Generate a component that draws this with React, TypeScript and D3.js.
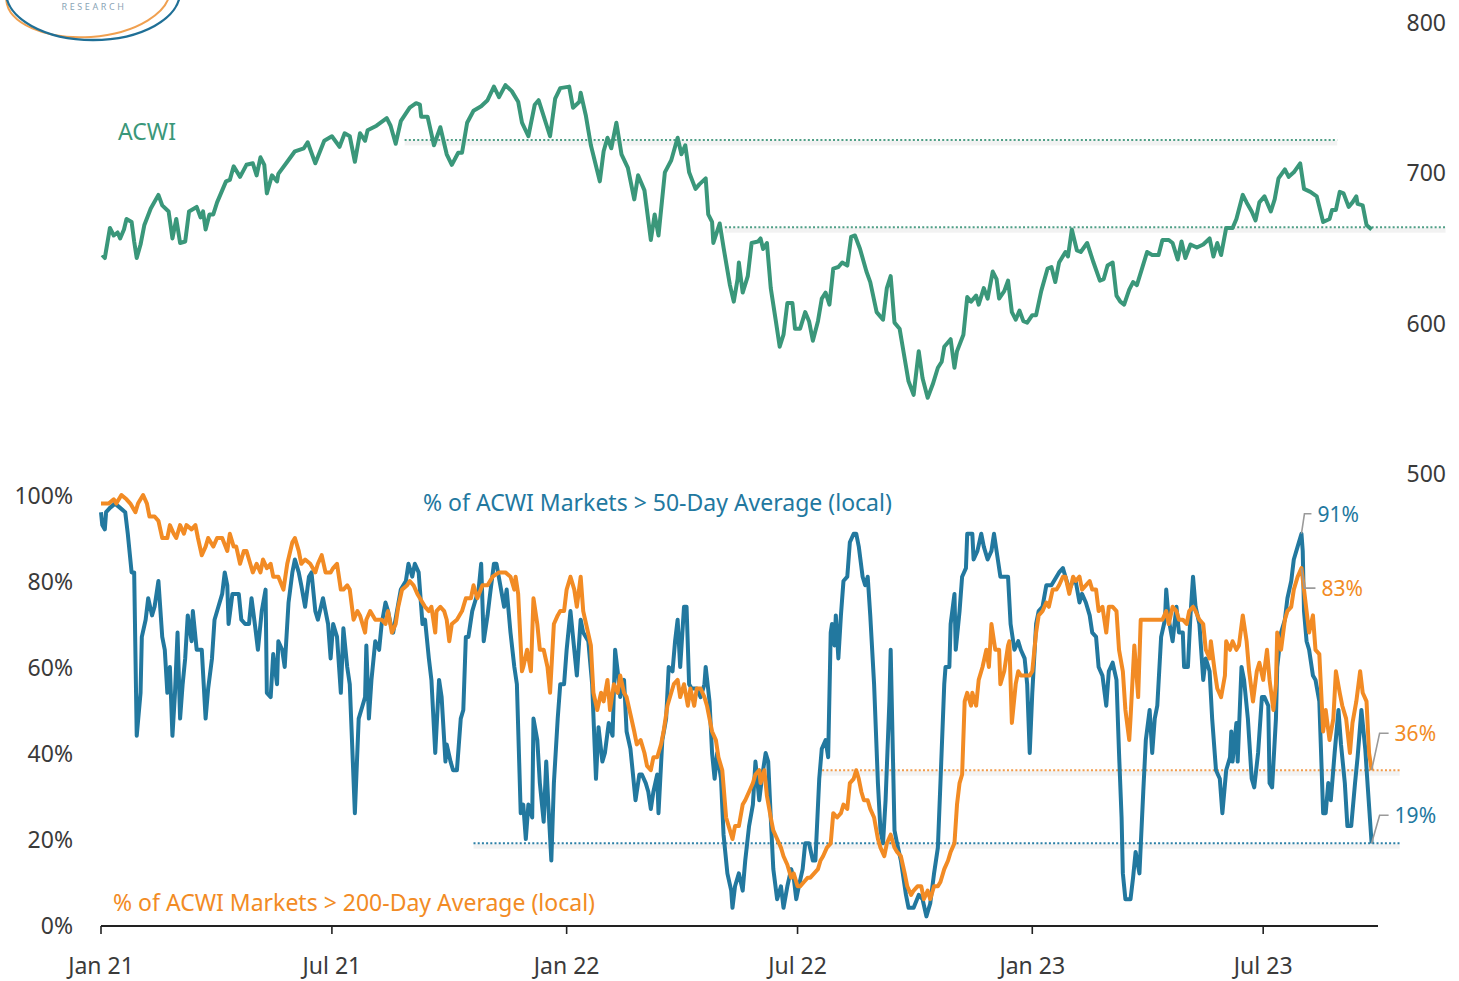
import { useEffect } from 'react'
import * as d3 from 'd3'

// all series are [days since 1 Jan 2021, value]
const acwi: [number, number][] = [
  [1, 645], [3, 643], [7, 663], [10, 658], [13, 660], [15, 656], [18, 662], [20, 669], [24, 667], [26, 654], [28, 643], [31, 652], [34, 665], [39, 676], [45, 685], [48, 678], [53, 674], [56, 656], [59, 669], [62, 653], [66, 654], [69, 674], [75, 677], [78, 670], [80, 674], [82, 662], [85, 672], [88, 672], [91, 680], [98, 694], [101, 695], [104, 704], [109, 697], [114, 705], [119, 706], [122, 698], [125, 710], [128, 705], [130, 686], [134, 698], [138, 694], [139, 699], [146, 707], [152, 714], [159, 716], [162, 720], [168, 706], [175, 721], [181, 724], [187, 717], [191, 726], [195, 724], [199, 707], [203, 726], [207, 721], [209, 728], [216, 731], [224, 736], [227, 731], [231, 719], [235, 734], [242, 743], [247, 746], [250, 745], [251, 737], [256, 737], [261, 718], [266, 730], [271, 712], [275, 705], [280, 713], [283, 713], [287, 733], [292, 741], [298, 744], [303, 748], [308, 757], [312, 750], [317, 758], [322, 754], [327, 747], [330, 733], [335, 724], [340, 745], [343, 748], [346, 740], [352, 724], [356, 749], [360, 756], [367, 757], [370, 743], [375, 747], [376, 753], [380, 738], [384, 718], [391, 694], [394, 714], [397, 723], [400, 716], [404, 733], [408, 712], [413, 703], [418, 682], [421, 698], [426, 688], [431, 655], [434, 672], [437, 658], [442, 700], [447, 708], [452, 723], [455, 712], [458, 718], [461, 700], [466, 689], [469, 692], [474, 696], [476, 672], [479, 667], [480, 653], [485, 666], [488, 650], [493, 625], [496, 614], [499, 629], [500, 640], [503, 620], [507, 631], [510, 653], [515, 654], [517, 656], [519, 649], [522, 653], [525, 623], [529, 601], [532, 584], [535, 592], [538, 613], [542, 613], [544, 596], [548, 596], [552, 607], [555, 601], [558, 588], [562, 601], [565, 616], [568, 620], [571, 612], [574, 636], [578, 637], [581, 640], [585, 638], [588, 657], [591, 658], [595, 649], [600, 634], [603, 627], [608, 607], [613, 602], [616, 623], [619, 631], [622, 600], [626, 596], [629, 581], [633, 561], [637, 552], [641, 581], [644, 563], [648, 550], [652, 559], [656, 570], [659, 574], [661, 584], [666, 589], [669, 570], [671, 581], [676, 592], [679, 617], [682, 614], [686, 618], [688, 612], [692, 623], [695, 616], [699, 634], [702, 629], [704, 616], [708, 621], [711, 628], [714, 607], [717, 602], [720, 608], [723, 601], [726, 600], [730, 605], [733, 605], [737, 621], [742, 636], [745, 637], [748, 627], [751, 640], [756, 647], [758, 644], [761, 662], [765, 648], [768, 647], [773, 653], [778, 640], [783, 628], [786, 629], [789, 638], [793, 640], [796, 618], [799, 614], [802, 612], [806, 622], [809, 627], [812, 625], [816, 636], [820, 647], [824, 645], [829, 645], [832, 655], [837, 655], [840, 653], [844, 642], [847, 654], [850, 643], [854, 652], [859, 650], [864, 652], [869, 656], [872, 644], [875, 653], [878, 645], [882, 663], [887, 663], [890, 669], [895, 685], [898, 680], [902, 674], [905, 668], [908, 680], [912, 684], [917, 674], [920, 682], [923, 696], [928, 702], [931, 697], [935, 700], [940, 706], [943, 689], [948, 687], [953, 684], [958, 667], [963, 669], [965, 675], [968, 675], [971, 687], [974, 686], [978, 677], [981, 680], [984, 684], [985, 679], [989, 678], [992, 665], [996, 662],
]

const above50: [number, number][] = [
  [0, 96], [1, 93], [3, 92], [4, 96], [7, 97], [11, 98], [15, 97], [19, 96], [21, 91], [24, 82], [26, 82], [28, 44], [31, 54], [32, 67], [35, 71], [37, 76], [40, 72], [42, 74], [45, 80], [48, 67], [50, 64], [52, 54], [54, 60], [56, 44], [58, 54], [60, 68], [62, 48], [64, 56], [66, 62], [68, 72], [71, 66], [72, 73], [75, 64], [77, 64], [79, 64], [82, 48], [84, 55], [87, 62], [89, 71], [92, 74], [95, 77], [97, 82], [99, 79], [100, 70], [103, 77], [105, 77], [108, 77], [110, 71], [113, 70], [116, 70], [118, 76], [121, 69], [123, 64], [126, 73], [129, 78], [130, 54], [133, 53], [135, 63], [138, 56], [139, 66], [142, 64], [144, 60], [147, 75], [150, 82], [152, 85], [155, 82], [157, 79], [160, 74], [163, 81], [165, 82], [168, 73], [170, 71], [174, 76], [176, 73], [178, 70], [180, 62], [182, 70], [185, 67], [188, 54], [190, 69], [193, 60], [195, 56], [199, 26], [202, 48], [205, 51], [207, 53], [208, 65], [210, 48], [212, 57], [215, 66], [218, 64], [220, 70], [223, 75], [225, 73], [227, 70], [229, 68], [232, 73], [235, 78], [239, 80], [241, 84], [244, 81], [246, 84], [249, 82], [252, 70], [254, 71], [257, 62], [259, 57], [262, 40], [265, 57], [267, 53], [270, 38], [271, 42], [274, 38], [276, 36], [279, 36], [282, 48], [284, 50], [286, 67], [288, 67], [291, 73], [293, 75], [296, 78], [298, 84], [300, 66], [303, 72], [305, 77], [308, 84], [310, 84], [313, 79], [316, 74], [318, 78], [321, 68], [324, 60], [326, 56], [329, 26], [331, 28], [333, 20], [335, 28], [338, 25], [339, 48], [342, 43], [344, 33], [347, 24], [349, 38], [351, 26], [353, 15], [355, 33], [358, 48], [360, 56], [363, 56], [365, 64], [368, 73], [371, 64], [373, 58], [376, 71], [378, 68], [382, 66], [385, 56], [388, 34], [390, 46], [393, 38], [395, 40], [398, 47], [401, 44], [403, 64], [405, 59], [407, 53], [410, 57], [412, 45], [415, 41], [419, 29], [422, 35], [424, 35], [427, 33], [429, 31], [431, 27], [433, 31], [436, 35], [437, 26], [440, 43], [443, 48], [445, 60], [448, 59], [450, 66], [452, 71], [454, 60], [457, 74], [459, 74], [461, 56], [463, 55], [467, 55], [470, 53], [473, 56], [474, 60], [477, 52], [479, 40], [481, 34], [483, 40], [486, 34], [488, 21], [491, 12], [494, 8], [495, 4], [497, 9], [500, 12], [503, 8], [505, 15], [508, 23], [511, 28], [513, 38], [516, 29], [518, 34], [521, 40], [523, 38], [525, 25], [527, 13], [530, 6], [533, 9], [535, 4], [538, 9], [541, 13], [543, 11], [545, 6], [547, 9], [550, 13], [552, 19], [555, 19], [558, 15], [560, 15], [563, 34], [565, 41], [568, 43], [570, 39], [572, 68], [573, 70], [575, 65], [576, 72], [578, 62], [580, 72], [582, 80], [585, 81], [587, 89], [590, 91], [592, 91], [594, 88], [597, 81], [599, 79], [601, 81], [603, 72], [606, 56], [609, 33], [611, 22], [613, 19], [615, 29], [618, 52], [619, 64], [622, 22], [624, 19], [627, 15], [631, 7], [633, 4], [637, 4], [641, 7], [644, 6], [647, 2], [650, 5], [653, 12], [656, 18], [658, 33], [661, 56], [662, 60], [665, 60], [666, 70], [669, 77], [670, 64], [673, 73], [675, 81], [678, 83], [679, 91], [683, 91], [684, 85], [687, 87], [690, 91], [692, 88], [695, 85], [698, 87], [700, 91], [703, 85], [705, 81], [711, 81], [713, 70], [716, 64], [719, 66], [721, 64], [724, 62], [726, 56], [728, 40], [730, 54], [733, 70], [735, 73], [738, 74], [741, 79], [745, 79], [747, 80], [751, 82], [754, 83], [756, 81], [759, 78], [762, 80], [764, 80], [767, 75], [769, 77], [772, 75], [775, 72], [777, 68], [780, 67], [782, 60], [785, 58], [788, 51], [790, 59], [793, 61], [796, 57], [798, 40], [800, 25], [801, 12], [803, 6], [807, 6], [809, 11], [811, 17], [814, 12], [817, 31], [819, 43], [822, 50], [824, 40], [826, 48], [828, 51], [831, 67], [834, 71], [835, 78], [837, 71], [840, 66], [843, 74], [845, 68], [848, 68], [849, 60], [852, 60], [854, 72], [856, 81], [858, 74], [861, 70], [864, 57], [866, 62], [869, 59], [871, 48], [874, 36], [877, 34], [879, 26], [882, 36], [885, 39], [886, 45], [887, 38], [890, 47], [891, 38], [894, 60], [896, 57], [899, 48], [902, 34], [904, 32], [907, 40], [910, 53], [912, 53], [915, 51], [916, 33], [918, 32], [921, 48], [922, 60], [925, 68], [928, 71], [930, 76], [933, 80], [935, 85], [938, 88], [941, 91], [942, 87], [943, 73], [945, 66], [947, 64], [950, 58], [952, 57], [955, 52], [958, 26], [960, 26], [962, 33], [964, 29], [967, 40], [970, 50], [972, 42], [975, 33], [977, 23], [980, 23], [983, 33], [985, 39], [988, 50], [991, 41], [993, 32], [996, 19],
]

const above200: [number, number][] = [
  [0, 98], [6, 98], [10, 99], [12, 98], [16, 100], [20, 99], [23, 98], [27, 96], [29, 98], [33, 100], [36, 98], [38, 95], [42, 95], [45, 94], [48, 90], [52, 90], [54, 93], [57, 91], [59, 90], [62, 93], [65, 91], [67, 93], [71, 92], [74, 93], [76, 90], [79, 86], [82, 88], [84, 90], [88, 88], [91, 90], [95, 90], [99, 87], [101, 91], [104, 88], [106, 88], [109, 84], [112, 87], [114, 87], [117, 84], [119, 82], [122, 84], [125, 82], [127, 85], [130, 83], [133, 84], [135, 81], [139, 81], [143, 78], [146, 84], [150, 89], [152, 90], [155, 87], [157, 84], [160, 85], [164, 84], [168, 82], [170, 84], [173, 86], [176, 82], [180, 82], [182, 83], [185, 84], [188, 78], [190, 78], [193, 79], [195, 78], [198, 71], [201, 73], [203, 72], [207, 68], [208, 71], [211, 73], [215, 71], [220, 71], [223, 70], [225, 73], [228, 68], [231, 70], [233, 74], [236, 78], [240, 79], [242, 80], [245, 79], [248, 77], [250, 76], [254, 74], [257, 73], [259, 74], [262, 68], [263, 73], [266, 74], [269, 73], [271, 71], [273, 66], [275, 70], [279, 71], [283, 73], [286, 76], [290, 76], [292, 79], [295, 76], [299, 79], [303, 79], [307, 81], [312, 82], [317, 82], [321, 81], [324, 78], [325, 81], [327, 77], [330, 59], [331, 60], [334, 64], [337, 59], [339, 76], [342, 70], [344, 64], [347, 64], [350, 60], [352, 54], [355, 70], [358, 72], [360, 73], [363, 73], [365, 78], [368, 81], [371, 78], [373, 74], [376, 81], [378, 73], [381, 69], [384, 65], [386, 54], [389, 50], [392, 54], [394, 52], [397, 57], [399, 50], [402, 56], [405, 54], [407, 58], [410, 54], [412, 53], [415, 49], [418, 45], [420, 42], [423, 43], [426, 40], [428, 37], [431, 36], [433, 39], [436, 39], [439, 42], [441, 45], [444, 51], [447, 54], [449, 56], [452, 57], [454, 53], [457, 56], [460, 51], [462, 55], [465, 51], [467, 55], [470, 55], [473, 53], [475, 51], [479, 45], [482, 43], [484, 39], [487, 36], [490, 25], [492, 23], [495, 20], [497, 23], [500, 23], [503, 28], [505, 29], [508, 31], [511, 33], [513, 35], [516, 36], [517, 33], [520, 36], [522, 30], [525, 25], [527, 22], [530, 20], [533, 18], [535, 16], [538, 14], [541, 11], [543, 12], [546, 9], [548, 9], [551, 10], [554, 11], [556, 11], [559, 12], [562, 13], [564, 15], [566, 16], [569, 18], [572, 19], [574, 26], [577, 25], [580, 26], [582, 28], [585, 27], [587, 33], [590, 34], [592, 36], [594, 34], [596, 31], [598, 29], [601, 29], [603, 27], [606, 25], [609, 20], [611, 18], [614, 16], [616, 19], [619, 21], [622, 18], [624, 17], [627, 16], [630, 12], [632, 9], [635, 7], [637, 8], [640, 9], [643, 9], [645, 6], [648, 8], [650, 6], [653, 9], [656, 9], [658, 10], [661, 13], [664, 15], [666, 17], [669, 19], [671, 28], [673, 33], [675, 35], [677, 52], [679, 54], [682, 51], [683, 54], [686, 51], [688, 57], [691, 60], [694, 64], [696, 60], [698, 70], [701, 64], [704, 64], [705, 56], [708, 59], [711, 65], [712, 66], [714, 47], [717, 56], [719, 59], [721, 58], [724, 58], [728, 58], [730, 59], [733, 68], [735, 72], [738, 73], [741, 75], [743, 74], [746, 78], [749, 78], [751, 79], [754, 81], [756, 81], [759, 77], [762, 81], [764, 80], [767, 81], [769, 78], [772, 79], [775, 80], [777, 78], [780, 78], [782, 73], [785, 74], [788, 68], [790, 74], [793, 74], [796, 73], [798, 64], [801, 59], [803, 50], [806, 43], [807, 48], [810, 65], [813, 53], [815, 71], [819, 71], [822, 71], [825, 71], [829, 71], [832, 71], [835, 73], [837, 70], [840, 74], [843, 73], [845, 71], [848, 71], [851, 70], [853, 73], [856, 74], [858, 73], [861, 71], [864, 70], [866, 64], [869, 62], [870, 66], [873, 59], [875, 55], [878, 53], [881, 58], [882, 66], [885, 64], [887, 66], [890, 64], [892, 65], [895, 72], [898, 66], [900, 59], [903, 52], [906, 59], [908, 61], [911, 57], [914, 64], [916, 57], [919, 50], [921, 56], [922, 68], [925, 64], [928, 71], [930, 73], [933, 74], [935, 78], [938, 81], [941, 83], [943, 78], [945, 73], [947, 68], [950, 72], [952, 64], [955, 63], [958, 45], [960, 50], [963, 43], [966, 48], [968, 59], [971, 54], [973, 51], [976, 48], [979, 40], [981, 47], [984, 52], [987, 59], [989, 54], [992, 52], [994, 40], [996, 36],
]

const acwiTicks = [800, 700, 600, 500]
const pctTicks = [0, 20, 40, 60, 80, 100]
const dateTicks = ['2021-01-01', '2021-07-01', '2022-01-01', '2022-07-01', '2023-01-01', '2023-07-01']
const dateLabels = ['Jan 21', 'Jul 21', 'Jan 22', 'Jul 22', 'Jan 23', 'Jul 23']

// dotted support/resistance levels: [value, fromDay, toDay]
const acwiLevels: [number, number, number][] = [[721.5, 238, 969], [663.5, 489, 1054]]
const level200: [number, number, number] = [36, 562, 1018]
const level50: [number, number, number] = [19, 292, 1018]

// last/peak callouts: [day, value]
const call50Peak: [number, number] = [941, 91]
const call200Peak: [number, number] = [941, 83]
const call200Last: [number, number] = [996, 36]
const call50Last: [number, number] = [996, 19]

const GREEN = '#3a977a'
const BLUE = '#22789f'
const ORANGE = '#f28b24'
const TEXT = '#3a3a3a'
const FONT = '"Noto Sans", "Open Sans", sans-serif'

const toDate = (d: number) => new Date(2021, 0, 1 + d)

export default function App() {
  useEffect(() => {
    document.body.style.margin = '0'
  }, [])

  const W = 1459
  const H = 981

  const x = d3.scaleTime()
    .domain([new Date(2021, 0, 1), new Date(2023, 8, 29)])
    .range([101, 1378])
  const yTop = d3.scaleLinear().domain([500, 800]).range([473, 22])
  const yBot = d3.scaleLinear().domain([0, 100]).range([925, 495])

  const topLine = d3.line<[number, number]>()
    .x(d => x(toDate(d[0])))
    .y(d => yTop(d[1]))
  const botLine = d3.line<[number, number]>()
    .x(d => x(toDate(d[0])))
    .y(d => yBot(d[1]))

  const dotted = (x1: number, x2: number, y: number, color: string, key: string) => (
    <g key={key}>
      <line x1={x1} x2={x2} y1={y + 3} y2={y + 3} stroke="#000" strokeOpacity={0.05} strokeWidth={5} />
      <line x1={x1} x2={x2} y1={y} y2={y} stroke={color} strokeWidth={2} strokeDasharray="2 2.2" />
    </g>
  )

  const callout = (pt: [number, number], label: string, color: string, dx: number, dy: number, tx: number) => {
    const px = x(toDate(pt[0]))
    const py = yBot(pt[1])
    return (
      <g key={label}>
        <path
          d={`M${px},${py} L${px + dx},${py + dy} L${px + tx - 6},${py + dy}`}
          fill="none"
          stroke="#9a9a9a"
          strokeWidth={1.6}
        />
        <text x={px + tx} y={py + dy} dominantBaseline="central" fill={color} fontSize={21} fontFamily={FONT}>
          {label}
        </text>
      </g>
    )
  }

  return (
    <svg width={W} height={H} style={{ display: 'block', background: '#fff' }}>
      {/* logo fragment */}
      <ellipse cx={88} cy={-6} rx={82} ry={43} fill="none" stroke="#f0a050" strokeWidth={2} transform="rotate(-4 88 -6)" />
      <ellipse cx={93} cy={-8} rx={87} ry={48} fill="none" stroke="#1f6f96" strokeWidth={2.4} />
      <text x={94} y={6} textAnchor="middle" dominantBaseline="central" fontSize={9} letterSpacing={2.6} fill="#8aa4b6" fontFamily={FONT}>
        RESEARCH
      </text>

      {/* top panel: ACWI */}
      {acwiTicks.map(t => (
        <text key={t} x={1446} y={yTop(t)} textAnchor="end" dominantBaseline="central" fontSize={23} fill={TEXT} fontFamily={FONT}>
          {t}
        </text>
      ))}
      {acwiLevels.map((l, i) => dotted(x(toDate(l[1])), x(toDate(l[2])), yTop(l[0]), '#4f9f86', 'acwi' + i))}
      <path d={topLine(acwi) ?? ''} fill="none" stroke={GREEN} strokeWidth={4} strokeLinejoin="round" />
      <text x={118} y={131} dominantBaseline="central" fontSize={23} fill={GREEN} fontFamily={FONT}>ACWI</text>

      {/* bottom panel: breadth */}
      {pctTicks.map(t => (
        <text key={t} x={73} y={yBot(t)} textAnchor="end" dominantBaseline="central" fontSize={23} fill={TEXT} fontFamily={FONT}>
          {t}%
        </text>
      ))}
      {dotted(x(toDate(level50[1])), x(toDate(level50[2])), yBot(level50[0]), '#2b7fa6', 'l50')}
      {dotted(x(toDate(level200[1])), x(toDate(level200[2])), yBot(level200[0]), '#f29a48', 'l200')}
      <path d={botLine(above50) ?? ''} fill="none" stroke={BLUE} strokeWidth={4} strokeLinejoin="round" />
      <path d={botLine(above200) ?? ''} fill="none" stroke={ORANGE} strokeWidth={4} strokeLinejoin="round" />

      <text x={423} y={502} dominantBaseline="central" fontSize={23} fill={BLUE} fontFamily={FONT}>
        % of ACWI Markets &gt; 50-Day Average (local)
      </text>
      <text x={113} y={902} dominantBaseline="central" fontSize={23} fill={ORANGE} fontFamily={FONT}>
        % of ACWI Markets &gt; 200-Day Average (local)
      </text>

      {callout(call50Peak, `${call50Peak[1]}%`, BLUE, 3, -20, 16)}
      {callout(call200Peak, `${call200Peak[1]}%`, ORANGE, 3, 20, 20)}
      {callout(call200Last, `${call200Last[1]}%`, ORANGE, 8, -37, 23)}
      {callout(call50Last, `${call50Last[1]}%`, BLUE, 8, -28, 23)}

      {/* x axis */}
      <line x1={101} x2={1378} y1={926} y2={926} stroke="#222" strokeWidth={2} />
      {dateTicks.map((t, i) => {
        const tx = x(new Date(t + 'T00:00:00'))
        return (
          <g key={t}>
            <line x1={tx} x2={tx} y1={926} y2={934} stroke="#222" strokeWidth={1.6} />
            <text x={tx} y={965} textAnchor="middle" dominantBaseline="central" fontSize={23} fill={TEXT} fontFamily={FONT}>
              {dateLabels[i]}
            </text>
          </g>
        )
      })}
    </svg>
  )
}
